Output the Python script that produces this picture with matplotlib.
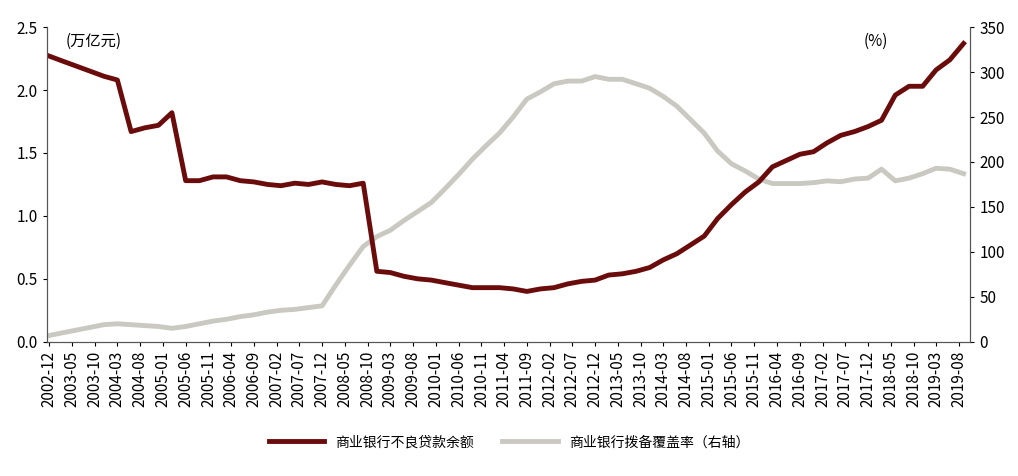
import matplotlib
matplotlib.use("Agg")
import matplotlib.pyplot as plt
import pandas as pd

plt.rcParams['font.family'] = ['Noto Sans CJK SC', 'DejaVu Sans']

dates = pd.date_range("2002-12-01", "2019-09-01", freq="3MS")
npl = [2.27, 2.23, 2.19, 2.15, 2.11, 2.08, 1.67, 1.70, 1.72, 1.82,
       1.28, 1.28, 1.31, 1.31, 1.28, 1.27, 1.25, 1.24, 1.26, 1.25,
       1.27, 1.25, 1.24, 1.26, 0.56, 0.55, 0.52, 0.50, 0.49, 0.47,
       0.45, 0.43, 0.43, 0.43, 0.42, 0.40, 0.42, 0.43, 0.46, 0.48,
       0.49, 0.53, 0.54, 0.56, 0.59, 0.65, 0.70, 0.77, 0.84, 0.98,
       1.09, 1.19, 1.27, 1.39, 1.44, 1.49, 1.51, 1.58, 1.64, 1.67,
       1.71, 1.76, 1.96, 2.03, 2.03, 2.16, 2.24, 2.37]
coverage = [7, 10, 13, 16, 19, 20, 19, 18, 17, 15,
            17, 20, 23, 25, 28, 30, 33, 35, 36, 38,
            40, 63, 85, 106, 117, 124, 135, 145, 155, 170,
            186, 203, 218, 232, 250, 270, 278, 287, 290, 290,
            295, 292, 292, 287, 282, 273, 262, 247, 232, 212,
            198, 190, 181, 176, 176, 176, 177, 179, 178, 181,
            182, 192, 179, 182, 187, 193, 192, 187]
tick_dates = pd.date_range("2002-12-01", "2019-08-01", freq="5MS")

fig, ax = plt.subplots(figsize=(10.18, 4.76), dpi=100)
fig.subplots_adjust(left=0.046, right=0.953, top=0.943, bottom=0.282)
ax2 = ax.twinx()

l1, = ax.plot(dates, npl, color='#6B0C0C', lw=3.5, label='商业银行不良贷款余额')
l2, = ax2.plot(dates, coverage, color='#C9C9C1', lw=3.5, label='商业银行拨备覆盖率（右轴）')
ax.set_zorder(ax2.get_zorder() + 1)
ax.patch.set_visible(False)

ax.set_ylim(0, 2.5)
ax2.set_ylim(0, 350)
ax.set_yticks([0, 0.5, 1.0, 1.5, 2.0, 2.5])
ax.set_yticklabels(['0.0', '0.5', '1.0', '1.5', '2.0', '2.5'])
ax2.set_yticks(range(0, 351, 50))
ax.set_xlim(pd.Timestamp("2002-11-15"), pd.Timestamp("2019-10-15"))
ax.set_xticks(tick_dates)
ax.set_xticklabels([d.strftime('%Y-%m') for d in tick_dates], rotation=90)
for a in (ax, ax2):
    a.spines['top'].set_visible(False)
    a.tick_params(labelsize=11, direction='out', length=3)
    for s in a.spines.values():
        s.set_color('#555555')

ax.text(0.02, 0.94, '(万亿元)', transform=ax.transAxes, fontsize=11)
ax2.text(0.885, 0.94, '(%)', transform=ax.transAxes, fontsize=11)

fig.legend(handles=[l1, l2], loc='lower center', ncol=2, frameon=False,
           fontsize=10, bbox_to_anchor=(0.5, 0.03), handlelength=4)
fig.savefig('out.png')
